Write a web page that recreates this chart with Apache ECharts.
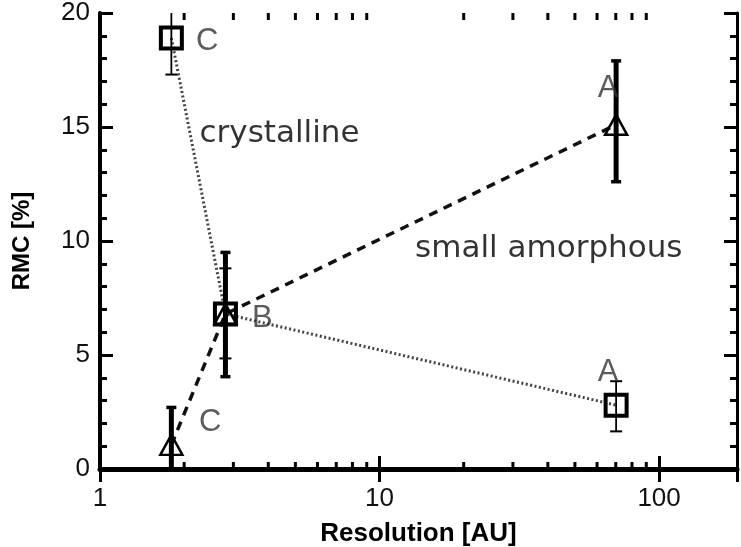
<!DOCTYPE html>
<html><head><meta charset="utf-8">
<script src="https://cdn.jsdelivr.net/npm/echarts@6/dist/echarts.min.js"></script>
<style>html,body{margin:0;padding:0;background:#fff}#c{width:741px;height:547px}</style>
</head><body><div id="c"></div>
<script>
// crystalline (squares)
const squareX = [1.80, 2.81, 70.2];
const squareY = [18.9, 6.8, 2.8];
const squareLow = [17.3, 4.85, 1.65];
const squareHigh = [20.6, 8.8, 3.85];
// small amorphous (triangles)
const triX = [1.80, 2.81, 70.2];
const triY = [1.06, 6.8, 15.1];
const triLow = [-0.5, 4.05, 12.6];
const triHigh = [2.7, 9.5, 17.9];
// axis ticks
const xMinorTicks = [2,3,4,5,6,7,8,9,20,30,40,50,60,70,80,90];
// annotations
const annotText = ['crystalline', 'small amorphous'];
const annotX = [2.27, 13.4];
const annotY = [14.7, 9.65];
const letterText = ['C', 'A', 'B', 'C', 'A'];
const letterX = [2.42, 65.7, 3.81, 2.48, 65.7];
const letterY = [18.75, 16.7, 6.62, 2.06, 4.25];

const chart = echarts.init(document.getElementById('c'));

function errRender(width, capW) {
  return function (params, api) {
    const x = api.value(0);
    const p1 = api.coord([x, api.value(1)]);
    const p2 = api.coord([x, api.value(2)]);
    const cs = params.coordSys;
    const top = cs.y, bot = cs.y + cs.height;
    const yLo = Math.min(p1[1], bot), yHi = Math.max(p2[1], top);
    const st = { stroke: '#000', lineWidth: width };
    const capSt = { stroke: '#000', lineWidth: Math.max(2, width * 0.7) };
    const ch = [{ type: 'line', shape: { x1: p1[0], y1: yLo, x2: p1[0], y2: yHi }, style: st }];
    if (p1[1] <= bot) ch.push({ type: 'line', shape: { x1: p1[0] - capW / 2, y1: p1[1], x2: p1[0] + capW / 2, y2: p1[1] }, style: capSt });
    if (p2[1] >= top) ch.push({ type: 'line', shape: { x1: p2[0] - capW / 2, y1: p2[1], x2: p2[0] + capW / 2, y2: p2[1] }, style: capSt });
    return { type: 'group', children: ch };
  };
}

function minorTickRender(params, api) {
  const p = api.coord([api.value(0), 0]);
  const cs = params.coordSys;
  const top = cs.y, bot = cs.y + cs.height;
  const st = { stroke: '#000', lineWidth: 3 };
  return { type: 'group', children: [
    { type: 'line', shape: { x1: p[0], y1: bot, x2: p[0], y2: bot - 7 }, style: st },
    { type: 'line', shape: { x1: p[0], y1: top, x2: p[0], y2: top + 7 }, style: st }
  ] };
}

const labelFont = { fontFamily: 'Liberation Sans', fontSize: 26, color: '#111' };

const option = {
  backgroundColor: '#fff',
  animation: false,
  grid: { left: 100, right: 4, top: 13, bottom: 78, containLabel: false, outerBoundsMode: 'none' },
  xAxis: [{
    type: 'log', logBase: 10, min: 1, max: 190,
    axisLine: { lineStyle: { color: '#000', width: 4 } },
    axisTick: { inside: true, length: 13, lineStyle: { color: '#000', width: 3 } },
    axisLabel: Object.assign({ margin: 17, showMaxLabel: false }, labelFont),
    splitLine: { show: false },
    name: 'Resolution [AU]', nameLocation: 'middle', nameGap: 52,
    nameTextStyle: { fontFamily: 'Liberation Sans', fontWeight: 'bold', fontSize: 26, color: '#000' }
  }, {
    type: 'log', logBase: 10, min: 1, max: 190, position: 'top',
    axisLine: { lineStyle: { color: '#000', width: 5 } },
    axisTick: { inside: true, length: 13, lineStyle: { color: '#000', width: 3 } },
    axisLabel: { show: false }, splitLine: { show: false }
  }],
  yAxis: [{
    type: 'value', min: 0, max: 20, interval: 5,
    axisLine: { show: true, lineStyle: { color: '#000', width: 4 } },
    axisTick: { show: true, inside: true, length: 13, lineStyle: { color: '#000', width: 3 } },
    minorTick: { show: true, splitNumber: 5, length: 7, lineStyle: { color: '#000', width: 3 } },
    axisLabel: Object.assign({ margin: 10 }, labelFont),
    splitLine: { show: false },
    name: 'RMC [%]', nameLocation: 'middle', nameGap: 66, nameRotate: 90,
    nameTextStyle: { fontFamily: 'Liberation Sans', fontWeight: 'bold', fontSize: 24, color: '#000' }
  }, {
    type: 'value', min: 0, max: 20, interval: 5, position: 'right',
    axisLine: { show: true, lineStyle: { color: '#000', width: 3 } },
    axisTick: { show: true, inside: true, length: 13, lineStyle: { color: '#000', width: 3 } },
    minorTick: { show: true, splitNumber: 5, length: 7, lineStyle: { color: '#000', width: 3 } },
    axisLabel: { show: false }, splitLine: { show: false }
  }],
  series: [
    {
      type: 'custom', renderItem: minorTickRender, silent: true,
      data: xMinorTicks.map(v => [v, 0]), encode: { x: 0, y: 1 }, z: 3
    },
    {
      name: 'crystalline', type: 'line',
      data: squareX.map((x, i) => [x, squareY[i]]),
      symbol: 'rect', symbolSize: 21,
      itemStyle: { color: 'rgba(255,255,255,0)', borderColor: '#000', borderWidth: 4 },
      lineStyle: { color: '#444', width: 3, type: [2, 2.5] }, z: 4
    },
    {
      name: 'small amorphous', type: 'line',
      data: triX.map((x, i) => [x, triY[i]]),
      symbol: 'triangle', symbolSize: [22, 20],
      itemStyle: { color: 'rgba(255,255,255,0)', borderColor: '#000', borderWidth: 2.5 },
      lineStyle: { color: '#111', width: 3.5, type: [9, 7] }, z: 4
    },
    {
      type: 'custom', renderItem: errRender(1.8, 12), silent: true,
      data: squareX.map((x, i) => [x, squareLow[i], squareHigh[i]]), encode: { x: 0, y: [1, 2] }, z: 5
    },
    {
      type: 'custom', renderItem: errRender(5, 10), silent: true,
      data: triX.map((x, i) => [x, triLow[i], triHigh[i]]), encode: { x: 0, y: [1, 2] }, z: 5
    },
    {
      type: 'scatter', symbolSize: 0, silent: true,
      data: annotText.map((t, i) => ({ value: [annotX[i], annotY[i]], name: t })),
      label: { show: true, position: 'inside', align: 'left', verticalAlign: 'middle', formatter: '{b}',
        fontFamily: 'DejaVu Sans', fontSize: 31, color: '#000', textBorderWidth: 0 }, z: 6
    },
    {
      type: 'scatter', symbolSize: 0, silent: true,
      data: letterText.map((t, i) => ({ value: [letterX[i], letterY[i]], name: t })),
      label: { show: true, position: 'inside', align: 'center', verticalAlign: 'middle', formatter: '{b}',
        fontFamily: 'Liberation Sans', fontSize: 31, color: '#333', textBorderWidth: 0 }, z: 6
    }
  ]
};
chart.setOption(option);
</script></body></html>
